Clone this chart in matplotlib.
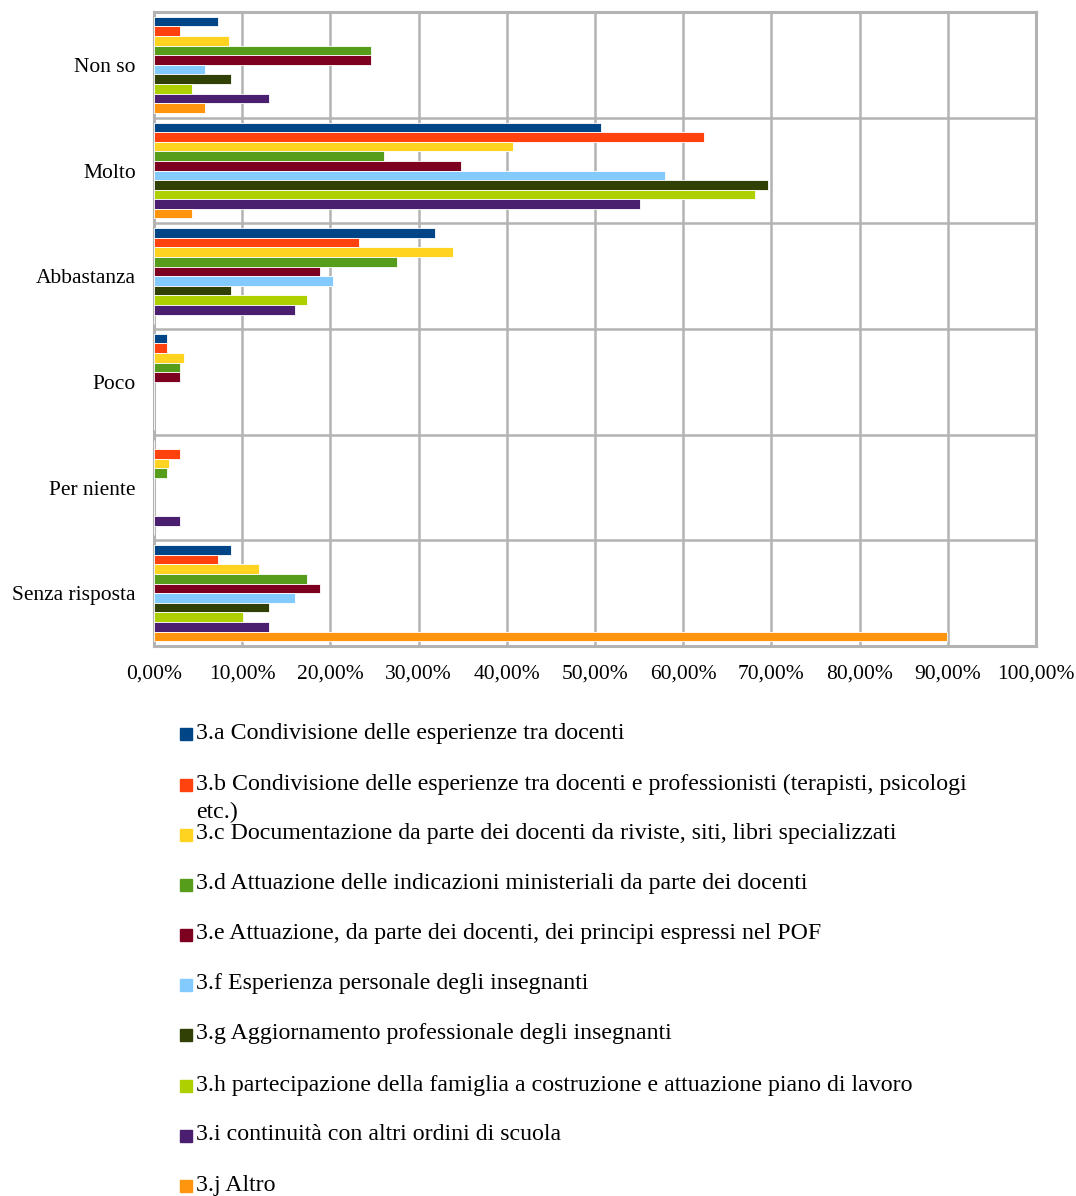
import numpy as np
import matplotlib.pyplot as plt
from matplotlib.patches import Rectangle

plt.rcParams['font.family'] = ['Liberation Serif', 'DejaVu Serif']

categories = ["Non so", "Molto", "Abbastanza", "Poco", "Per niente", "Senza risposta"]

series_labels = [
    "3.a Condivisione delle esperienze tra docenti",
    "3.b Condivisione delle esperienze tra docenti e professionisti (terapisti, psicologi\netc.)",
    "3.c Documentazione da parte dei docenti da riviste, siti, libri specializzati",
    "3.d Attuazione delle indicazioni ministeriali da parte dei docenti",
    "3.e Attuazione, da parte dei docenti, dei principi espressi nel POF",
    "3.f Esperienza personale degli insegnanti",
    "3.g Aggiornamento professionale degli insegnanti",
    "3.h partecipazione della famiglia a costruzione e attuazione piano di lavoro",
    "3.i continuità con altri ordini di scuola",
    "3.j Altro",
]

# percentuali per categoria (Non so, Molto, Abbastanza, Poco, Per niente, Senza risposta)
s3a = [7.25, 50.72, 31.88, 1.45, 0.00, 8.70]
s3b = [2.90, 62.32, 23.19, 1.45, 2.90, 7.25]
s3c = [8.47, 40.68, 33.90, 3.39, 1.69, 11.86]
s3d = [24.64, 26.09, 27.54, 2.90, 1.45, 17.39]
s3e = [24.64, 34.78, 18.84, 2.90, 0.00, 18.84]
s3f = [5.80, 57.97, 20.29, 0.00, 0.00, 15.94]
s3g = [8.70, 69.57, 8.70, 0.00, 0.00, 13.04]
s3h = [4.35, 68.12, 17.39, 0.00, 0.00, 10.14]
s3i = [13.04, 55.07, 15.94, 0.00, 2.90, 13.04]
s3j = [5.80, 4.35, 0.00, 0.00, 0.00, 89.86]

values = [s3a, s3b, s3c, s3d, s3e, s3f, s3g, s3h, s3i, s3j]
colors = ["#004586", "#ff420e", "#ffd320", "#579d1c", "#7e0021",
          "#83caff", "#314004", "#aecf00", "#4b1f6f", "#ff950e"]

W, H = 1076, 1196
fig = plt.figure(figsize=(W / 100, H / 100), dpi=100)
ax = fig.add_axes([154 / W, 1 - 646 / H, (1036 - 154) / W, (646 - 12) / H])

n = len(values)
bh = 0.908 / n
ypos = np.arange(len(categories))
for i, (vals, col) in enumerate(zip(values, colors)):
    y = ypos - 0.454 + bh * (i + 0.5)
    ax.barh(y, vals, height=bh, color=col, edgecolor="white", linewidth=0.6, zorder=3)

ax.set_ylim(len(categories) - 0.5, -0.5)
ax.set_xlim(0, 100)
ax.set_xticks(np.arange(0, 101, 10))
ax.set_xticklabels([f"{v:.2f}%".replace(".", ",") for v in np.arange(0, 101, 10)])
ax.set_yticks(ypos)
ax.set_yticklabels(categories)
ax.set_yticks(np.arange(0.5, len(categories) - 0.5, 1), minor=True)
ax.grid(True, axis="x", color="#b3b3b3", linewidth=1.8, zorder=0)
ax.grid(True, axis="y", which="minor", color="#b3b3b3", linewidth=1.8, zorder=0)
ax.tick_params(axis="both", which="both", length=0, labelsize=15.5)
ax.tick_params(axis="x", pad=13)
ax.tick_params(axis="y", pad=13)
for sp in ax.spines.values():
    sp.set_color("#b3b3b3")
    sp.set_linewidth(2.2)

# legenda manuale, una voce per riga
row_y = [733, 784, 834, 884, 934, 984, 1034, 1085, 1135, 1185]
for lab, col, yy in zip(series_labels, colors, row_y):
    fig.add_artist(Rectangle((180 / W, 1 - (yy + 7) / H), 12 / W, 12 / H,
                             transform=fig.transFigure, color=col))
    for k, line in enumerate(lab.split("\n")):
        fig.text(196 / W, 1 - (yy + 28 * k) / H, line, fontsize=17.2, va="center", ha="left")

fig.savefig("out.png", dpi=100)
